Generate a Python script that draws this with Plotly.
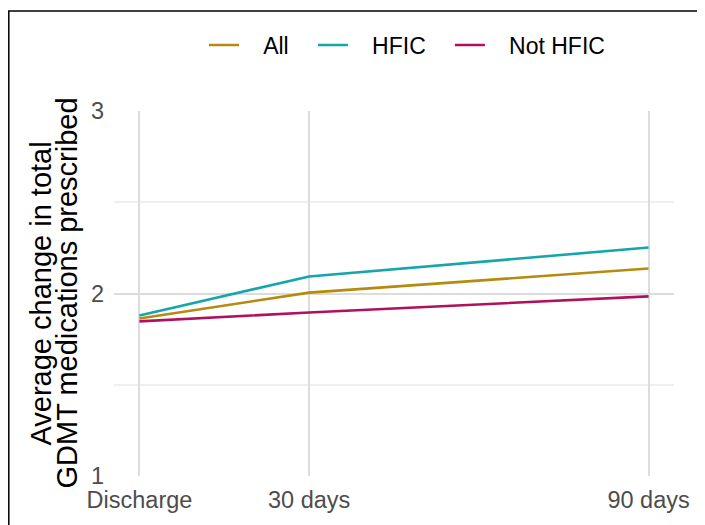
import plotly.graph_objects as go

days = [0, 30, 90]
tick_labels = ["Discharge", "30 days", "90 days"]
series_names = ["All", "HFIC", "Not HFIC"]
all_vals = [1.863, 2.005, 2.137]
hfic_vals = [1.880, 2.093, 2.252]
not_hfic_vals = [1.847, 1.896, 1.984]
colors = ["#B58A0E", "#14A6AB", "#B0105C"]

NB = "\u00a0"
fig = go.Figure()
for i, (name, vals, col) in enumerate(zip(series_names, [all_vals, hfic_vals, not_hfic_vals], colors)):
    label = NB * 3 + name + (NB * 3 if i < 2 else "")
    fig.add_trace(go.Scatter(x=days, y=vals, mode="lines", name=label,
                             line=dict(color=col, width=2.6)))

font_main = "Liberation Sans, Arial, Helvetica, sans-serif"

# page body has an 8px offset; figure is sized/margined to compensate
W, H = 697, 517
L, T = 106, 103
PW, PH = 560, 365

fig.update_layout(
    width=W, height=H,
    margin=dict(l=L, r=W - L - PW, t=T, b=H - T - PH),
    paper_bgcolor="white", plot_bgcolor="white",
    showlegend=True,
    legend=dict(orientation="h", x=(407 - 114) / PW, xanchor="center",
                y=(476 - 45) / PH, yanchor="middle",
                font=dict(family=font_main, size=23, color="black"),
                bgcolor="rgba(0,0,0,0)", tracegroupgap=0),
    xaxis=dict(range=[-4.5, 94.5], tickmode="array", tickvals=days, ticktext=tick_labels,
               showgrid=True, gridcolor="#DCDCDC", gridwidth=1.8, zeroline=False,
               showline=False, ticks="", ticklen=0, ticklabelstandoff=7,
               tickfont=dict(family=font_main, size=23.5, color="#4D4D4D")),
    yaxis=dict(range=[1, 3], tickmode="array", tickvals=[1, 2, 3], ticktext=["1", "2", "3"],
               showgrid=True, gridcolor="#DCDCDC", gridwidth=1.8, zeroline=False,
               showline=False, ticks="", ticklen=0, ticklabelstandoff=9,
               minor=dict(tickvals=[1.5, 2.5], showgrid=True, gridcolor="#EFEFEF", gridwidth=1.5),
               tickfont=dict(family=font_main, size=23.5, color="#4D4D4D")),
    font=dict(family=font_main),
)

# y-axis title as two lines
fig.add_annotation(text="Average change in total", xref="paper", yref="paper",
                   x=0, y=0.5, xshift=-74, textangle=-90, showarrow=False,
                   xanchor="center", yanchor="middle",
                   font=dict(family=font_main, size=29, color="black"))
fig.add_annotation(text="GDMT medications prescribed", xref="paper", yref="paper",
                   x=0, y=0.5, xshift=-48, textangle=-90, showarrow=False,
                   xanchor="center", yanchor="middle",
                   font=dict(family=font_main, size=29, color="black"))

# outer frame (partly clipped at right/bottom)
fig.add_shape(type="rect", xref="paper", yref="paper",
              x0=(0.8 - L) / PW, x1=(720 - L) / PW,
              y0=(T + PH - 540) / PH, y1=(T + PH - 3) / PH,
              line=dict(color="black", width=1.5), fillcolor="rgba(0,0,0,0)", layer="below")

fig.write_html("out.html")
